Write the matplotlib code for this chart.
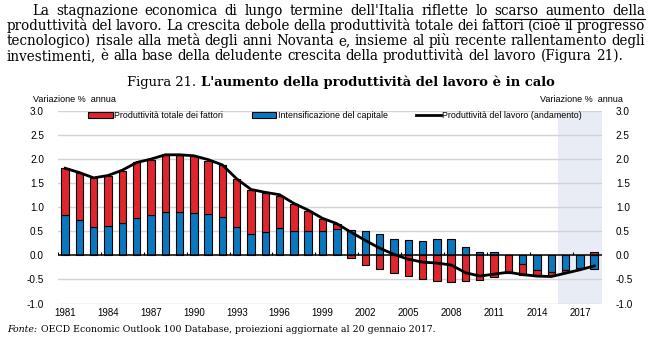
import numpy as np
import matplotlib
matplotlib.use("Agg")
import matplotlib.pyplot as plt
from matplotlib.patches import Patch, Rectangle
from matplotlib.lines import Line2D

years = np.arange(1981, 2019)
# intensificazione del capitale (blu)
capital = [0.83, 0.73, 0.60, 0.62, 0.68, 0.78, 0.83, 0.90, 0.91, 0.89,
           0.85, 0.79, 0.58, 0.44, 0.49, 0.56, 0.51, 0.51, 0.51, 0.54,
           0.52, 0.50, 0.44, 0.35, 0.31, 0.30, 0.35, 0.34, 0.17, 0.08,
           0.06, 0.01, -0.17, -0.30, -0.34, -0.31, -0.26, -0.28]
# produttivita totale dei fattori (rosso)
tfp = [0.98, 0.99, 1.00, 1.03, 1.08, 1.15, 1.16, 1.18, 1.18, 1.17,
       1.12, 1.09, 1.00, 0.91, 0.81, 0.68, 0.55, 0.41, 0.24, 0.11,
       -0.06, -0.19, -0.29, -0.36, -0.42, -0.49, -0.53, -0.56, -0.54, -0.51,
       -0.45, -0.36, -0.23, -0.12, -0.08, -0.04, -0.01, 0.06]
# produttivita del lavoro (andamento)
labour = [1.81, 1.72, 1.61, 1.66, 1.77, 1.93, 2.00, 2.09, 2.09, 2.07,
          1.99, 1.88, 1.59, 1.37, 1.31, 1.26, 1.08, 0.94, 0.77, 0.66,
          0.48, 0.31, 0.15, 0.02, -0.08, -0.14, -0.16, -0.20, -0.36, -0.43,
          -0.39, -0.35, -0.40, -0.43, -0.44, -0.37, -0.30, -0.22]
tick_years = list(range(1981, 2019, 3))
proj_start = 2016

paragraph = [
    "La stagnazione economica di lungo termine dell'Italia riflette lo scarso aumento della",
    "produttività del lavoro. La crescita debole della produttività totale dei fattori (cioè il progresso",
    "tecnologico) risale alla metà degli anni Novanta e, insieme al più recente rallentamento degli",
    "investimenti, è alla base della deludente crescita della produttività del lavoro (Figura 21).",
]

RED = "#e0252c"
BLUE = "#0a78bf"
W, H = 654, 347

fig = plt.figure(figsize=(W / 100, H / 100), dpi=100)
renderer = fig.canvas.get_renderer()
serif = "DejaVu Serif"
sans = "Liberation Sans"


def fx(px):
    return px / W


def fy(py):
    return 1 - py / H


def text_width(s, size, family=serif, **kw):
    t = fig.text(0, 0, s, fontsize=size, family=family, **kw)
    w = t.get_window_extent(renderer).width
    t.remove()
    return w


starts = [32, 7, 7, 7]
ends = [645, 645, 645, 555]
baselines = [15, 30, 45, 60]

# body font size: average of the sizes that fit the justified lines
fits = [10.0 * (ends[i] - starts[i]) / text_width(paragraph[i], 10.0) for i in range(3)]
body_size = float(np.mean(fits))
space = text_width("a b", body_size) - text_width("ab", body_size)

for i, line in enumerate(paragraph):
    words = line.split(" ")
    widths = [text_width(w, body_size) for w in words]
    if i < 3:
        gap = (ends[i] - starts[i] - sum(widths)) / (len(words) - 1)
    else:
        gap = space
    x = starts[i]
    for j, w in enumerate(words):
        fig.text(fx(x), fy(baselines[i]), w, fontsize=body_size, family=serif,
                 va="baseline", ha="left")
        if i == 0 and j == len(words) - 3:
            ul_start = x
        x += widths[j] + gap
    if i == 0:
        fig.add_artist(Line2D([fx(ul_start), fx(645)], [fy(18.5), fy(18.5)],
                              color="black", lw=0.8))

# title
t1 = "Figura 21. "
t2 = "L'aumento della produttività del lavoro è in calo"
tsize = 10.0 * 428 / (text_width(t1, 10.0) + text_width(t2, 10.0, fontweight="bold"))
w1 = text_width(t1, tsize)
w2 = text_width(t2, tsize, fontweight="bold")
x0 = 341 - (w1 + w2) / 2
fig.text(fx(x0), fy(86), t1, fontsize=tsize, family=serif, va="baseline")
fig.text(fx(x0 + w1), fy(86), t2, fontsize=tsize, family=serif,
         fontweight="bold", va="baseline")

# footer
f1 = "Fonte:"
f2 = "OECD Economic Outlook 100 Database, proiezioni aggiornate al 20 gennaio 2017."
fsize = 10.0 * 425 / (text_width(f1, 10.0, style="italic") + text_width(f2, 10.0))
wf = text_width(f1, fsize, style="italic")
fig.text(fx(7), fy(332), f1, fontsize=fsize, family=serif, style="italic",
         va="baseline")
fig.text(fx(7 + wf + 4), fy(332), f2, fontsize=fsize, family=serif, va="baseline")

# chart
ax = fig.add_axes([fx(58), fy(303.5), fx(602 - 58), (303.5 - 111) / H])
capital = np.array(capital)
tfp = np.array(tfp)
red_bottom = np.where(np.sign(tfp) == np.sign(capital), capital, 0)

ax.axvspan(proj_start - 0.5, 2018.55, color="#e8ecf4", zorder=0, lw=0)
for yv in np.arange(-1.0, 3.01, 0.5):
    if abs(yv) > 1e-9:
        ax.axhline(yv, color="#d4d4d4", lw=1.0, zorder=1)
ax.bar(years, capital, width=0.52, color=BLUE, edgecolor="black", lw=0.8, zorder=2)
ax.bar(years, tfp, width=0.52, bottom=red_bottom, color=RED, edgecolor="black",
       lw=0.8, zorder=2)
ax.axhline(0, color="black", lw=1.1, zorder=3)
ax.vlines(np.arange(1980.5, 2018, 3), 0, 0.06, color="black", lw=0.8, zorder=3)
ax.plot(years, labour, color="black", lw=2.0, zorder=4, solid_joinstyle="round")

yt = np.arange(-1.0, 3.01, 0.5)
ax.set_xlim(1980.5, 2018.55)
ax.set_ylim(-1.0, 3.0)
ax.set_yticks(yt)
ax.set_yticklabels(["%.1f" % v for v in yt])
ax.set_xticks(tick_years)
ax.tick_params(axis="y", length=0, labelsize=7.2, pad=10, labelright=True)
ax.tick_params(axis="x", length=0, labelsize=7.0, pad=3)
for lab in ax.get_xticklabels() + ax.get_yticklabels():
    lab.set_fontfamily(sans)
for tk in ax.yaxis.get_major_ticks():
    tk.label2.set_fontfamily(sans)
for s in ax.spines.values():
    s.set_visible(False)

fig.text(fx(33), fy(100), "Variazione %  annua", fontsize=6.5, family=sans, va="center")
fig.text(fx(540), fy(100), "Variazione %  annua", fontsize=6.5, family=sans, va="center")

# selection highlight seen in the reference legend
fig.add_artist(Rectangle((fx(116), fy(120)), 24 / W, 9 / H, color="#b4cfe9", lw=0, zorder=0))

handles = [Patch(facecolor=RED, edgecolor="black", lw=0.8),
           Patch(facecolor=BLUE, edgecolor="black", lw=0.8),
           Line2D([], [], color="black", lw=2.0)]
labels = ["Produttività totale dei fattori", "Intensificazione del capitale",
          "Produttività del lavoro (andamento)"]
ax.legend(handles, labels, loc="upper left", bbox_to_anchor=((88 - 58) / 544, 1.0),
          ncol=3, frameon=False, prop={"family": sans, "size": 6.4},
          handlelength=2.8, handleheight=0.6, handletextpad=0.15, columnspacing=3.2,
          borderaxespad=0, borderpad=0)

fig.savefig("out.png", dpi=100)
